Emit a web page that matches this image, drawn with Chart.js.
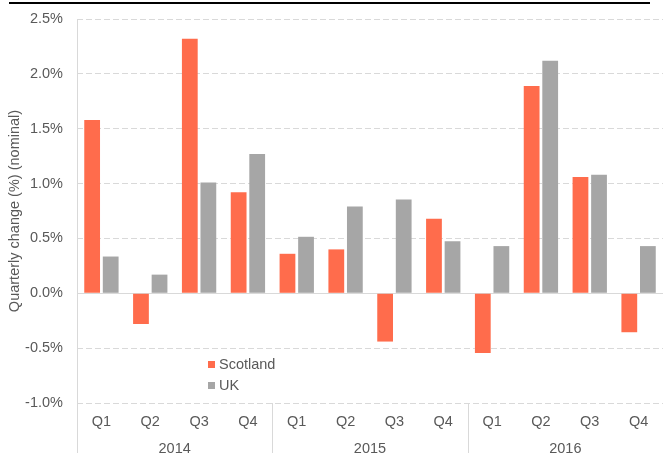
<!DOCTYPE html>
<html>
<head>
<meta charset="utf-8">
<script src="https://cdn.jsdelivr.net/npm/chart.js@4"></script>
<style>
  html, body { margin: 0; padding: 0; background: #fff; }
  #wrap { position: relative; width: 663px; height: 453px; overflow: hidden; }
  #topline { position: absolute; left: 9px; top: 2px; width: 641px; height: 2px; background: #000; }
  .leg { position: absolute; font-family: "Liberation Sans", Arial, sans-serif; font-size: 14.5px; color: #595959; line-height: 16px; white-space: nowrap; }
  .sw { display: inline-block; width: 7px; height: 7px; margin-right: 4px; vertical-align: 1px; }
</style>
</head>
<body>
<div id="wrap">
  <canvas id="c" width="663" height="453"></canvas>
  <div id="topline"></div>
  <div class="leg" style="left:208px; top:356px;"><span class="sw" style="background:#FF6C4C"></span>Scotland</div>
  <div class="leg" style="left:208px; top:377px;"><span class="sw" style="background:#A6A6A6"></span>UK</div>
</div>
<script>
const quarters = ['Q1','Q2','Q3','Q4','Q1','Q2','Q3','Q4','Q1','Q2','Q3','Q4'];
const years = ['2014','2015','2016'];
const scotland = [1.58, -0.28, 2.32, 0.92, 0.36, 0.40, -0.44, 0.68, -0.545, 1.89, 1.06, -0.355];
const uk = [0.335, 0.17, 1.01, 1.27, 0.515, 0.79, 0.855, 0.475, 0.43, 2.12, 1.08, 0.43];
const yTitle = 'Quarterly change (%) (nominal)';

const FONT = '"Liberation Sans", Arial, sans-serif';
const FS = 14.5;
const TXT = '#595959';
const GRID = '#d9d9d9';

const separators = {
  id: 'separators',
  afterDraw(chart) {
    const {ctx, chartArea, scales} = chart;
    const xs = scales.x;
    const half = (xs.getPixelForValue(1) - xs.getPixelForValue(0)) / 2;
    ctx.save();
    ctx.strokeStyle = GRID;
    ctx.lineWidth = 1;
    ctx.beginPath();
    const lx = Math.round(xs.getPixelForValue(0) - half) + 0.5;
    ctx.moveTo(lx, chartArea.top);
    ctx.lineTo(lx, chart.height);
    [4, 8].forEach(i => {
      const x = Math.round(xs.getPixelForValue(i) - half) + 0.5;
      ctx.moveTo(x, chartArea.bottom);
      ctx.lineTo(x, chart.height);
    });
    ctx.stroke();
    ctx.restore();
  }
};

new Chart(document.getElementById('c'), {
  type: 'bar',
  data: {
    labels: quarters,
    datasets: [
      { label: 'Scotland', data: scotland, backgroundColor: '#FF6C4C', borderWidth: 0 },
      { label: 'UK', data: uk, backgroundColor: '#A6A6A6', borderWidth: 0 }
    ]
  },
  options: {
    responsive: false,
    animation: false,
    layout: { padding: { top: 0, right: 0, bottom: 0, left: 0 } },
    datasets: { bar: { categoryPercentage: 0.76, barPercentage: 0.85 } },
    plugins: { legend: { display: false }, tooltip: { enabled: false } },
    scales: {
      y: {
        min: -1, max: 2.5,
        ticks: {
          stepSize: 0.5, color: TXT, padding: 14,
          font: { family: FONT, size: FS },
          callback: v => v.toFixed(1) + '%'
        },
        grid: { color: GRID, drawTicks: false, lineWidth: 1 },
        border: { display: false, dash: c => (!c.tick || c.tick.value === 0) ? [] : [6, 3] },
        title: { display: true, text: yTitle, color: TXT, font: { family: FONT, size: FS }, padding: { top: 6, bottom: 0 } },
        afterFit: s => { s.width = 77; s.paddingTop = 19; s.paddingBottom = 0; }
      },
      x: {
        position: 'bottom',
        grid: { display: false, drawTicks: false },
        border: { display: false },
        ticks: { color: TXT, padding: 10, font: { family: FONT, size: FS }, maxRotation: 0, autoSkip: false },
        afterFit: s => { s.height = 26; }
      },
      x2: {
        type: 'category',
        position: 'bottom',
        labels: years,
        offset: true,
        grid: { display: false, drawTicks: false },
        border: { display: false },
        ticks: { color: TXT, padding: 11, font: { family: FONT, size: FS }, maxRotation: 0 },
        afterFit: s => { s.height = 24; }
      }
    }
  },
  plugins: [separators]
});
</script>
</body>
</html>
